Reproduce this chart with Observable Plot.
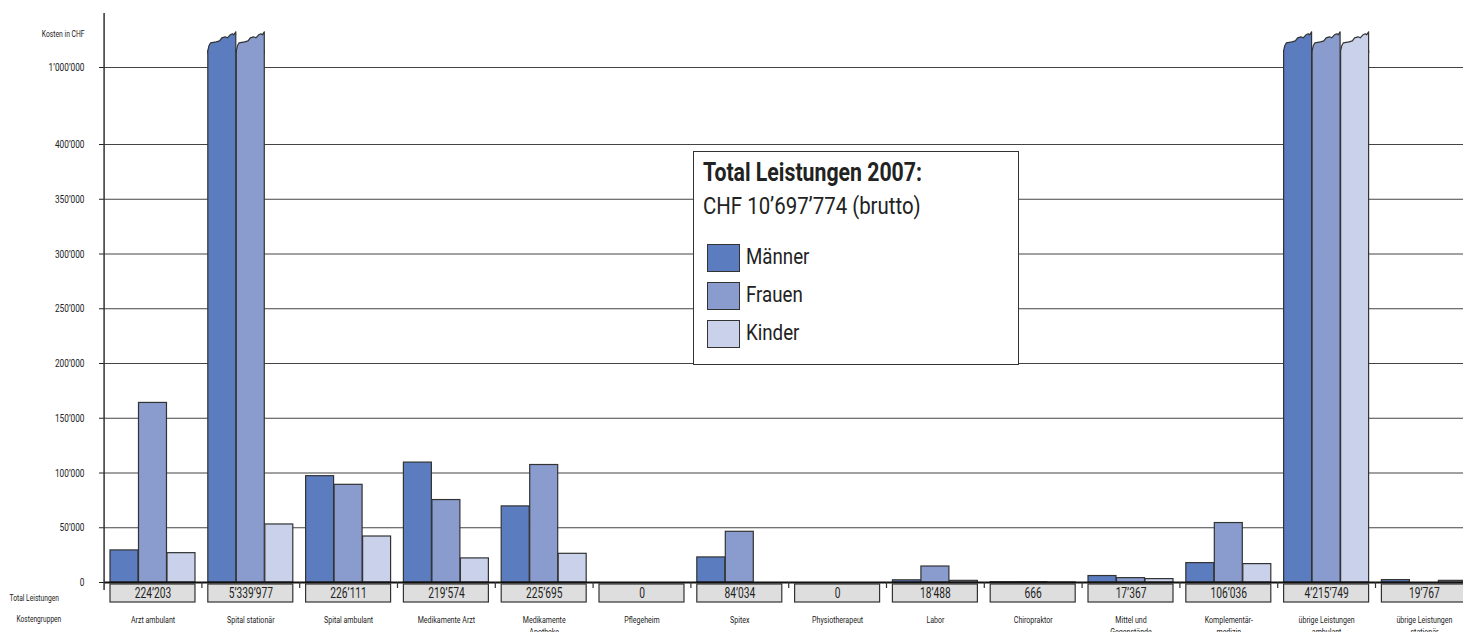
<!DOCTYPE html>
<html>
<head>
<meta charset="utf-8">
<script src="https://cdn.jsdelivr.net/npm/d3@7"></script>
<script src="https://cdn.jsdelivr.net/npm/@observablehq/plot@0.6"></script>
<style>
  html, body { margin: 0; padding: 0; background: #fff; overflow: hidden; }
  #wrap { position: relative; width: 1463px; height: 632px; overflow: hidden;
          font-family: Roboto, "DejaVu Sans", sans-serif; color: #222; }
  #legend { position: absolute; left: 693px; top: 151px; width: 326px; height: 214px;
            box-sizing: border-box; border: 1px solid #333; background: #fff; }
  #legend .t { position: absolute; white-space: nowrap; transform-origin: 0 0; }
  #legend .sw { position: absolute; width: 33px; height: 28px; box-sizing: border-box; border: 1.2px solid #333; }
</style>
</head>
<body>
<div id="wrap">
  <div id="chart"></div>
  <div id="legend"></div>
</div>
<script>
// ---------- data ----------
const cats = ["Arzt ambulant", "Spital stationär", "Spital ambulant", "Medikamente Arzt", "Medikamente Apotheke",
  "Pflegeheim", "Spitex", "Physiotherapeut", "Labor", "Chiropraktor", "Mittel und Gegenstände",
  "Komplementärmedizin", "übrige Leistungen ambulant", "übrige Leistungen stationär"];
const catLabels = ["Arzt ambulant", "Spital stationär", "Spital ambulant", "Medikamente Arzt", "Medikamente\nApotheke",
  "Pflegeheim", "Spitex", "Physiotherapeut", "Labor", "Chiropraktor", "Mittel und\nGegenstände",
  "Komplementär-\nmedizin", "übrige Leistungen\nambulant", "übrige Leistungen\nstationär"];
const totals = [224203, 5339977, 226111, 219574, 225695, 0, 84034, 0, 18488, 666, 17367, 106036, 4215749, 19767];
const maenner = [29300, 2520000, 97100, 109500, 69500, 0, 22900, 0, 2000, 250, 5900, 17700, 1480000, 2200];
const frauen  = [164000, 2767000, 89200, 75300, 107300, 0, 46300, 0, 14600, 350, 4000, 54300, 1520000, 0];
const kinder  = [26800, 53000, 42000, 22000, 26200, 0, 0, 0, 1500, 66, 3100, 16800, 1200000, 1500];
const seriesNames = ["Männer", "Frauen", "Kinder"];
const seriesColors = ["#5b7cbf", "#8a9bcd", "#c9d1eb"];
const yTicks = [0, 50000, 100000, 150000, 200000, 250000, 300000, 350000, 400000, 1000000];
const legendTitle = "Total Leistungen 2007:";
const legendSub = "CHF 10’697’774 (brutto)";

// ---------- settings ----------
const FONT = 'Roboto, "DejaVu Sans", sans-serif';
const CONDENSE = 0.72;
const cap = 1150000;              // display cap for the broken (cut) bars
const insets = [[0, 57], [28.5, 28.5], [57, 0]];
const jag = [[0,0],[0.04,-5],[0.1,-8],[0.3,-9],[0.42,-10],[0.5,-13],[0.62,-14],[0.7,-13],[0.8,-16],[0.88,-17],[0.93,-16],[1,-19]];
const fmt = v => d3.format(",")(Math.round(v / 1000) * 1000).replace(/,/g, "’");
const fmtExact = v => d3.format(",")(v).replace(/,/g, "’");
const seriesValues = [maenner, frauen, kinder];

const barMarks = seriesValues.map((vals, s) => Plot.barY(cats, {
  x: d => d, y1: () => 0, y2: (d, i) => Math.min(vals[i], cap),
  fill: seriesColors[s], stroke: "#333", strokeWidth: 1.2,
  insetLeft: insets[s][0], insetRight: insets[s][1]
}));

function brokenTops(index, scales) {
  const g = d3.create("svg:g");
  const bw = scales.x.bandwidth();
  const yb = scales.y(cap);
  seriesValues.forEach((vals, s) => {
    vals.forEach((v, i) => {
      if (v <= cap) return;
      const xb = scales.x(cats[i]);
      const x0 = xb + insets[s][0], x1 = xb + bw - insets[s][1];
      const pts = [[x0, yb + 3], ...jag.map(([f, dy]) => [x0 + f * (x1 - x0), yb + dy]), [x1, yb + 3]];
      g.append("path")
        .attr("d", "M" + pts.map(p => p.join(",")).join("L"))
        .attr("fill", seriesColors[s]).attr("stroke", "#333").attr("stroke-width", 1.2)
        .attr("stroke-linejoin", "round");
    });
  });
  return g.node();
}

const chart = Plot.plot({
  width: 1463, height: 632,
  marginLeft: 104, marginRight: 0, marginTop: 13, marginBottom: 42,
  style: {fontFamily: FONT, color: "#222", background: "#fff", fontSize: "11.5px"},
  x: {domain: cats, range: [110, 1466.4], paddingInner: 0.131, paddingOuter: 0, align: 0, round: false, axis: null},
  y: {type: "linear", domain: [0, 400000, 1000000, 1500000], range: [582, 144, 67, 13], ticks: yTicks, tickFormat: fmt,
      tickSize: 5, tickPadding: 15, label: null},
  marks: [
    Plot.ruleY(yTicks.filter(d => d > 0), {stroke: "#444", strokeWidth: 1.2}),
    ...barMarks,
    brokenTops,
    Plot.barY(cats, {x: d => d, y1: () => 0, y2: () => 0, insetTop: 2, insetBottom: -20,
      fill: "#dedede", stroke: "#333", strokeWidth: 1.2}),
    Plot.text(cats, {x: d => d, y: () => 0, dy: 11, text: (d, i) => fmtExact(totals[i]), fontSize: 14.2, fill: "#222"}),
    Plot.text(cats, {x: d => d, y: () => 0, dy: 32, text: (d, i) => catLabels[i], lineAnchor: "top",
      fontSize: 9.8, lineHeight: 1.2, fill: "#222"}),
    Plot.ruleY([0], {stroke: "#111", strokeWidth: 2}),
    Plot.ruleX([cats[0]], {x: d => d, dx: -48.9, stroke: "#333", strokeWidth: 1.5}),
    Plot.ruleX(cats.slice(1), {x: d => d, y1: () => 0, y2: () => 0, insetBottom: -6, dx: -48.9, stroke: "#333", strokeWidth: 1.2}),
    Plot.text(["Kosten in CHF"], {frameAnchor: "top-left", text: d => d, dx: -20, dy: 16.5, textAnchor: "end", fontSize: 9.4, fill: "#222"}),
    Plot.text(["Total Leistungen"], {frameAnchor: "bottom-left", text: d => d, dx: -95, dy: 10, textAnchor: "start", fontSize: 9.3, fill: "#222"}),
    Plot.text(["Kostengruppen"], {frameAnchor: "bottom-left", text: d => d, dx: -88, dy: 31, textAnchor: "start", fontSize: 9.2, fill: "#222"})
  ]
});
document.getElementById("chart").appendChild(chart);

// condense all svg text (the original uses a condensed typeface)
d3.select(chart).selectAll("text").each(function() {
  const tspans = this.querySelectorAll("tspan");
  const els = tspans.length ? Array.from(tspans) : [this];
  els.forEach(el => {
    const len = el.getComputedTextLength();
    if (len > 0) { el.setAttribute("textLength", len * CONDENSE); el.setAttribute("lengthAdjust", "spacingAndGlyphs"); }
  });
});

// ---------- legend ----------
const lg = document.getElementById("legend");
function addText(txt, left, top, size, weight) {
  const d = document.createElement("div");
  d.className = "t"; d.textContent = txt;
  d.style.left = left + "px"; d.style.top = top + "px";
  d.style.fontSize = size + "px"; d.style.lineHeight = size + "px"; d.style.fontWeight = weight;
  lg.appendChild(d);
  return d;
}
const texts = [];
texts.push(addText(legendTitle, 9, 8, 25, "bold"));
texts.push(addText(legendSub, 9, 41.8, 24, "normal"));
seriesNames.forEach((name, i) => {
  const sw = document.createElement("div");
  sw.className = "sw";
  sw.style.left = "13px"; sw.style.top = (92 + i * 38) + "px";
  sw.style.background = seriesColors[i];
  lg.appendChild(sw);
  texts.push(addText(name, 52, 93.5 + i * 38, 22, "normal"));
});
const f = 219 / texts[0].getBoundingClientRect().width;
texts.forEach(t => { t.style.transform = `scaleX(${f})`; });
</script>
</body>
</html>
